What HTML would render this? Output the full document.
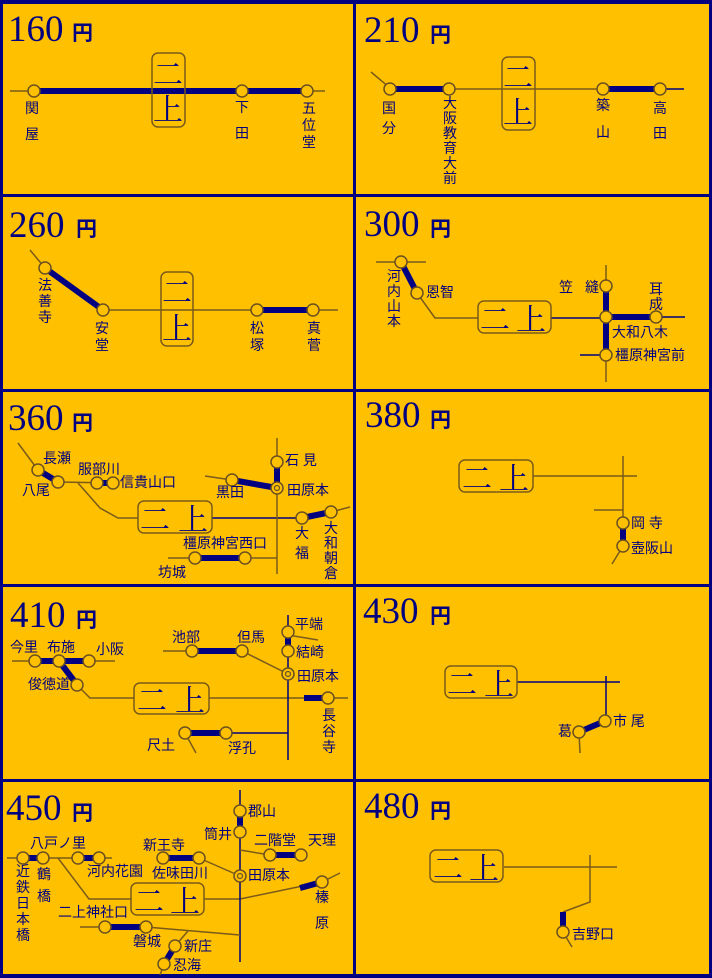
<!DOCTYPE html>
<html><head><meta charset="utf-8"><style>
html,body{margin:0;padding:0;background:#FFC000}
svg{display:block}
.t{stroke:#7a5a1a;stroke-width:1.5;fill:none}
.n{stroke:#000080;stroke-width:1.5;fill:none}
.k{stroke:#000080;stroke-width:6;fill:none}
.c{fill:#FFC000;stroke:#6b5020;stroke-width:1.5}
text{font-family:"Liberation Sans","Noto Sans CJK JP",sans-serif;fill:#000080}
.l{font-size:14px}
.m{font-size:14px;text-anchor:middle}
.p{font-family:"Liberation Serif",serif;font-size:37px}
.y{font-size:21px;font-weight:bold}
.b{fill:none;stroke:#7a5a1a;stroke-width:1.5}
.bx{font-family:"Noto Serif CJK SC","Noto Sans CJK JP",serif;font-size:30px}
</style></head><body>
<svg width="712" height="978" viewBox="0 0 712 978" xmlns="http://www.w3.org/2000/svg">
<rect x="0" y="0" width="712" height="978" fill="#FFC000"/>
<g fill="#000080">
<rect x="0" y="0" width="712" height="4"/>
<rect x="0" y="974" width="712" height="4"/>
<rect x="0" y="0" width="3" height="978"/>
<rect x="709" y="0" width="3" height="978"/>
<rect x="353" y="0" width="3" height="978"/>
<rect x="0" y="194" width="712" height="3"/>
<rect x="0" y="389" width="712" height="3"/>
<rect x="0" y="584" width="712" height="3"/>
<rect x="0" y="779" width="712" height="3"/>
</g>
<!-- prices -->
<text class="p" x="8" y="41">160</text><text class="y" x="72" y="40">円</text>
<text class="p" x="364" y="42">210</text><text class="y" x="430" y="42">円</text>
<text class="p" x="9" y="237">260</text><text class="y" x="76" y="236">円</text>
<text class="p" x="364" y="236">300</text><text class="y" x="430" y="236">円</text>
<text class="p" x="8" y="430">360</text><text class="y" x="72" y="430">円</text>
<text class="p" x="365" y="427">380</text><text class="y" x="430" y="427">円</text>
<text class="p" x="10" y="627">410</text><text class="y" x="76" y="627">円</text>
<text class="p" x="363" y="623">430</text><text class="y" x="430" y="623">円</text>
<text class="p" x="6" y="820">450</text><text class="y" x="72" y="820">円</text>
<text class="p" x="364" y="818">480</text><text class="y" x="430" y="818">円</text>

<!-- 160 -->
<line class="t" x1="10" y1="91" x2="325" y2="91"/>
<line class="k" x1="34" y1="91" x2="307" y2="91"/>
<rect class="b" x="152" y="53" width="33" height="74" rx="6" fill="#FFC000"/>
<text class="bx" x="168" y="85" text-anchor="middle">二</text>
<text class="bx" x="168" y="120" text-anchor="middle">上</text>
<circle class="c" cx="34" cy="91" r="6"/><circle class="c" cx="242" cy="91" r="6"/><circle class="c" cx="307" cy="91" r="6"/>
<text class="m" x="32" y="113">関</text><text class="m" x="32" y="139">屋</text>
<text class="m" x="242" y="112">下</text><text class="m" x="242" y="138">田</text>
<text class="m" x="309" y="113">五</text><text class="m" x="309" y="130">位</text><text class="m" x="309" y="147">堂</text>

<!-- 210 -->
<line class="t" x1="371" y1="72" x2="390" y2="88"/>
<line class="t" x1="390" y1="89" x2="603" y2="89"/>
<line class="n" x1="660" y1="89" x2="684" y2="89"/>
<line class="k" x1="390" y1="89" x2="449" y2="89"/>
<line class="k" x1="603" y1="89" x2="660" y2="89"/>
<rect class="b" x="502" y="57" width="33" height="73" rx="6" fill="#FFC000"/>
<text class="bx" x="518" y="88" text-anchor="middle">二</text>
<text class="bx" x="518" y="123" text-anchor="middle">上</text>
<circle class="c" cx="390" cy="89" r="6"/><circle class="c" cx="449" cy="89" r="6"/><circle class="c" cx="603" cy="89" r="6"/><circle class="c" cx="660" cy="89" r="6"/>
<text class="m" x="389" y="113">国</text><text class="m" x="389" y="133">分</text>
<text class="m" x="450" y="108">大</text><text class="m" x="450" y="123">阪</text><text class="m" x="450" y="138">教</text><text class="m" x="450" y="153">育</text><text class="m" x="450" y="168">大</text><text class="m" x="450" y="183">前</text>
<text class="m" x="603" y="110">築</text><text class="m" x="603" y="137">山</text>
<text class="m" x="660" y="113">高</text><text class="m" x="660" y="138">田</text>

<!-- 260 -->
<line class="t" x1="30" y1="250" x2="45" y2="268"/>
<line class="t" x1="103" y1="310" x2="338" y2="310"/>
<line class="k" x1="45" y1="268" x2="103" y2="310"/>
<line class="k" x1="257" y1="310" x2="313" y2="310"/>
<rect class="b" x="161" y="272" width="32" height="74" rx="6" fill="#FFC000"/>
<text class="bx" x="177" y="303" text-anchor="middle">二</text>
<text class="bx" x="177" y="339" text-anchor="middle">上</text>
<circle class="c" cx="45" cy="268" r="6"/><circle class="c" cx="103" cy="310" r="6"/><circle class="c" cx="257" cy="310" r="6"/><circle class="c" cx="313" cy="310" r="6"/>
<text class="m" x="45" y="290">法</text><text class="m" x="45" y="306">善</text><text class="m" x="45" y="322">寺</text>
<text class="m" x="102" y="333">安</text><text class="m" x="102" y="350">堂</text>
<text class="m" x="257" y="333">松</text><text class="m" x="257" y="350">塚</text>
<text class="m" x="314" y="333">真</text><text class="m" x="314" y="350">菅</text>

<!-- 300 -->
<line class="t" x1="376" y1="262" x2="426" y2="262"/>
<polyline class="t" points="417,293 435,318 478,318"/>
<line class="n" x1="551" y1="318" x2="606" y2="318"/>
<line class="t" x1="606" y1="265" x2="606" y2="382"/>
<line class="n" x1="656" y1="317" x2="685" y2="317"/>
<line class="n" x1="580" y1="355" x2="606" y2="355"/>
<line class="k" x1="401" y1="262" x2="417" y2="293"/>
<line class="k" x1="606" y1="286" x2="606" y2="355"/>
<line class="k" x1="606" y1="317" x2="656" y2="317"/>
<rect class="b" x="478" y="301" width="73" height="32" rx="6" fill="#FFC000"/>
<text class="bx" x="480" y="330">二</text><text class="bx" x="516" y="330">上</text>
<circle class="c" cx="401" cy="262" r="6"/><circle class="c" cx="417" cy="293" r="6"/><circle class="c" cx="606" cy="286" r="6"/><circle class="c" cx="606" cy="317" r="6"/><circle class="c" cx="606" cy="355" r="6"/><circle class="c" cx="656" cy="317" r="6"/>
<text class="m" x="394" y="281">河</text><text class="m" x="394" y="296">内</text><text class="m" x="394" y="311">山</text><text class="m" x="394" y="326">本</text>
<text class="l" x="426" y="297">恩智</text>
<text class="l" x="559" y="292">笠</text><text class="l" x="585" y="292">縫</text>
<text class="m" x="656" y="294">耳</text><text class="m" x="656" y="309">成</text>
<text class="l" x="612" y="337">大和八木</text>
<text class="l" x="615" y="360">橿原神宮前</text>

<!-- 360 -->
<line class="t" x1="18" y1="443" x2="38" y2="470"/>
<line class="t" x1="58" y1="482" x2="113" y2="483"/>
<polyline class="t" points="78,483 100,508 118,518 138,518"/>
<line class="n" x1="212" y1="518" x2="302" y2="518"/>
<line class="t" x1="331" y1="512" x2="350" y2="507"/>
<line class="t" x1="277" y1="438" x2="277" y2="574"/>
<line class="t" x1="205" y1="476" x2="232" y2="480"/>
<line class="t" x1="168" y1="558" x2="277" y2="558"/>
<line class="k" x1="38" y1="470" x2="58" y2="482"/>
<line class="k" x1="97" y1="483" x2="113" y2="483"/>
<line class="k" x1="302" y1="518" x2="331" y2="512"/>
<line class="k" x1="277" y1="462" x2="277" y2="488"/>
<line class="k" x1="232" y1="480" x2="277" y2="488"/>
<line class="k" x1="195" y1="558" x2="245" y2="558"/>
<rect class="b" x="138" y="501" width="74" height="32" rx="6" fill="#FFC000"/>
<text class="bx" x="140" y="530">二</text><text class="bx" x="178" y="530">上</text>
<circle class="c" cx="38" cy="470" r="6"/><circle class="c" cx="58" cy="482" r="6"/><circle class="c" cx="97" cy="483" r="6"/><circle class="c" cx="113" cy="483" r="6"/>
<circle class="c" cx="302" cy="518" r="6"/><circle class="c" cx="331" cy="512" r="6"/>
<circle class="c" cx="277" cy="462" r="6"/><circle class="c" cx="232" cy="480" r="6"/>
<circle class="c" cx="277" cy="488" r="6"/><circle cx="277" cy="488" r="2.5" fill="none" stroke="#6b5020" stroke-width="1.2"/>
<circle class="c" cx="195" cy="558" r="6"/><circle class="c" cx="245" cy="558" r="6"/>
<text class="l" x="43" y="463">長瀬</text><text class="l" x="22" y="495">八尾</text>
<text class="l" x="78" y="474">服部川</text><text class="l" x="120" y="487">信貴山口</text>
<text class="l" x="285" y="465">石 見</text><text class="l" x="216" y="497">黒田</text><text class="l" x="287" y="495">田原本</text>
<text class="m" x="302" y="538">大</text><text class="m" x="302" y="558">福</text>
<text class="m" x="331" y="533">大</text><text class="m" x="331" y="548">和</text><text class="m" x="331" y="563">朝</text><text class="m" x="331" y="578">倉</text>
<text class="l" x="183" y="548">橿原神宮西口</text><text class="l" x="158" y="577">坊城</text>

<!-- 380 -->
<line class="t" x1="533" y1="476" x2="637" y2="476"/>
<line class="t" x1="623" y1="456" x2="623" y2="523"/>
<line class="t" x1="594" y1="510" x2="623" y2="510"/>
<line class="t" x1="623" y1="546" x2="612" y2="564"/>
<line class="k" x1="623" y1="523" x2="623" y2="546"/>
<rect class="b" x="459" y="460" width="74" height="32" rx="6" fill="#FFC000"/>
<text class="bx" x="462" y="489">二</text><text class="bx" x="499" y="489">上</text>
<circle class="c" cx="623" cy="523" r="6"/><circle class="c" cx="623" cy="546" r="6"/>
<text class="l" x="631" y="528">岡 寺</text><text class="l" x="631" y="553">壺阪山</text>

<!-- 410 -->
<line class="t" x1="12" y1="661" x2="115" y2="661"/>
<polyline class="t" points="77,685 90,698 134,698"/>
<line class="t" x1="209" y1="698" x2="348" y2="698"/>
<line class="n" x1="288" y1="615" x2="288" y2="760"/>
<line class="t" x1="288" y1="635" x2="318" y2="640"/>
<line class="t" x1="163" y1="651" x2="192" y2="651"/>
<line class="t" x1="242" y1="651" x2="288" y2="674"/>
<line class="t" x1="185" y1="733" x2="196" y2="753"/>
<line class="n" x1="226" y1="733" x2="288" y2="733"/>
<line class="k" x1="35" y1="661" x2="89" y2="661"/>
<line class="k" x1="59" y1="661" x2="75" y2="682"/>
<line class="k" x1="288" y1="632" x2="288" y2="651"/>
<line class="k" x1="192" y1="651" x2="242" y2="651"/>
<line class="k" x1="304" y1="698" x2="328" y2="698"/>
<line class="k" x1="185" y1="733" x2="226" y2="733"/>
<rect class="b" x="134" y="683" width="75" height="31" rx="6" fill="#FFC000"/>
<text class="bx" x="137" y="711">二</text><text class="bx" x="175" y="711">上</text>
<circle class="c" cx="35" cy="661" r="6"/><circle class="c" cx="59" cy="661" r="6"/><circle class="c" cx="89" cy="661" r="6"/><circle class="c" cx="77" cy="685" r="6"/>
<circle class="c" cx="288" cy="632" r="6"/><circle class="c" cx="288" cy="651" r="6"/>
<circle class="c" cx="288" cy="674" r="6"/><circle cx="288" cy="674" r="2.5" fill="none" stroke="#6b5020" stroke-width="1.2"/>
<circle class="c" cx="192" cy="651" r="6"/><circle class="c" cx="242" cy="651" r="6"/>
<circle class="c" cx="328" cy="698" r="6"/><circle class="c" cx="185" cy="733" r="6"/><circle class="c" cx="226" cy="733" r="6"/>
<text class="l" x="10" y="652">今里</text><text class="l" x="47" y="652">布施</text><text class="l" x="96" y="654">小阪</text>
<text class="l" x="28" y="689">俊徳道</text>
<text class="l" x="172" y="642">池部</text><text class="l" x="237" y="642">但馬</text>
<text class="l" x="295" y="629">平端</text><text class="l" x="296" y="657">結崎</text><text class="l" x="297" y="681">田原本</text>
<text class="m" x="329" y="720">長</text><text class="m" x="329" y="736">谷</text><text class="m" x="329" y="752">寺</text>
<text class="l" x="147" y="750">尺土</text><text class="l" x="228" y="753">浮孔</text>

<!-- 430 -->
<line class="n" x1="517" y1="682" x2="620" y2="682"/>
<line class="n" x1="606" y1="676" x2="606" y2="720"/>
<line class="t" x1="579" y1="732" x2="580" y2="753"/>
<line class="k" x1="605" y1="721" x2="579" y2="732"/>
<rect class="b" x="445" y="666" width="72" height="32" rx="6" fill="#FFC000"/>
<text class="bx" x="447" y="695">二</text><text class="bx" x="484" y="695">上</text>
<circle class="c" cx="605" cy="721" r="6"/><circle class="c" cx="579" cy="732" r="6"/>
<text class="l" x="613" y="726">市 尾</text><text class="l" x="558" y="736">葛</text>

<!-- 450 -->
<line class="t" x1="7" y1="858" x2="112" y2="858"/>
<polyline class="t" points="58,858 89,899 131,899"/>
<line class="t" x1="204" y1="899" x2="240" y2="899"/>
<line class="t" x1="240" y1="899" x2="322" y2="882"/>
<line class="t" x1="322" y1="882" x2="340" y2="873"/>
<line class="n" x1="240" y1="790" x2="240" y2="962"/>
<line class="t" x1="240" y1="850" x2="270" y2="855"/>
<line class="t" x1="199" y1="858" x2="240" y2="876"/>
<line class="t" x1="80" y1="927" x2="105" y2="927"/>
<line class="t" x1="146" y1="927" x2="240" y2="935"/>
<line class="t" x1="188" y1="931" x2="175" y2="946"/>
<line class="t" x1="164" y1="964" x2="160" y2="975"/>
<line class="k" x1="23" y1="858" x2="43" y2="858"/>
<line class="k" x1="78" y1="858" x2="99" y2="858"/>
<line class="k" x1="240" y1="811" x2="240" y2="832"/>
<line class="k" x1="270" y1="855" x2="301" y2="855"/>
<line class="k" x1="163" y1="858" x2="199" y2="858"/>
<line class="k" x1="300" y1="888" x2="322" y2="882"/>
<line class="k" x1="105" y1="927" x2="146" y2="927"/>
<line class="k" x1="175" y1="946" x2="164" y2="964"/>
<rect class="b" x="131" y="883" width="73" height="32" rx="6" fill="#FFC000"/>
<text class="bx" x="134" y="912">二</text><text class="bx" x="170" y="912">上</text>
<circle class="c" cx="23" cy="858" r="6"/><circle class="c" cx="43" cy="858" r="6"/><circle class="c" cx="78" cy="858" r="6"/><circle class="c" cx="99" cy="858" r="6"/>
<circle class="c" cx="240" cy="811" r="6"/><circle class="c" cx="240" cy="832" r="6"/>
<circle class="c" cx="240" cy="876" r="6"/><circle cx="240" cy="876" r="2.5" fill="none" stroke="#6b5020" stroke-width="1.2"/>
<circle class="c" cx="270" cy="855" r="6"/><circle class="c" cx="301" cy="855" r="6"/>
<circle class="c" cx="163" cy="858" r="6"/><circle class="c" cx="199" cy="858" r="6"/>
<circle class="c" cx="322" cy="882" r="6"/>
<circle class="c" cx="105" cy="927" r="6"/><circle class="c" cx="146" cy="927" r="6"/>
<circle class="c" cx="175" cy="946" r="6"/><circle class="c" cx="164" cy="964" r="6"/>
<text class="l" x="30" y="848">八戸ノ里</text>
<text class="m" x="23" y="876">近</text><text class="m" x="23" y="892">鉄</text><text class="m" x="23" y="908">日</text><text class="m" x="23" y="924">本</text><text class="m" x="23" y="940">橋</text>
<text class="m" x="44" y="879">鶴</text><text class="m" x="44" y="901">橋</text>
<text class="l" x="87" y="876">河内花園</text>
<text class="l" x="143" y="850">新王寺</text><text class="l" x="152" y="878">佐味田川</text>
<text class="l" x="248" y="816">郡山</text><text class="l" x="204" y="839">筒井</text>
<text class="l" x="254" y="845">二階堂</text><text class="l" x="308" y="845">天理</text>
<text class="l" x="248" y="880">田原本</text>
<text class="m" x="322" y="902">榛</text><text class="m" x="322" y="928">原</text>
<text class="l" x="58" y="917">二上神社口</text><text class="l" x="133" y="946">磐城</text>
<text class="l" x="184" y="951">新庄</text><text class="l" x="173" y="970">忍海</text>

<!-- 480 -->
<line class="t" x1="504" y1="867" x2="617" y2="867"/>
<polyline class="t" points="590,855 590,902 563,912"/>
<line class="t" x1="563" y1="932" x2="572" y2="947"/>
<line class="k" x1="563" y1="912" x2="563" y2="930"/>
<rect class="b" x="430" y="850" width="73" height="32" rx="6" fill="#FFC000"/>
<text class="bx" x="433" y="879">二</text><text class="bx" x="469" y="879">上</text>
<circle class="c" cx="563" cy="932" r="6"/>
<text class="l" x="572" y="939">吉野口</text>
</svg>
</body></html>
